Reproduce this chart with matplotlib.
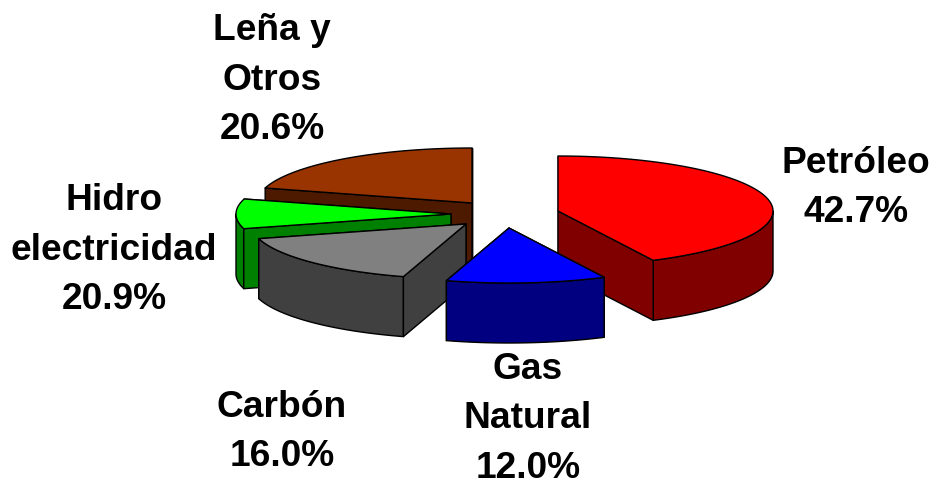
import numpy as np
import matplotlib
matplotlib.use('Agg')
import matplotlib.pyplot as plt
from matplotlib.patches import Polygon

plt.rcParams['font.family'] = ['Liberation Sans', 'DejaVu Sans']

# slice sizes (the hidro label says 20.9 but the slice is drawn as about 8.7)
names = ['Petróleo', 'Gas\nNatural', 'Carbón', 'Hidro\nelectricidad', 'Leña y\nOtros']
label_pct = [42.7, 12.0, 16.0, 20.9, 20.6]
slice_pct = [42.7, 12.0, 16.0, 8.7, 20.6]

# apex of each exploded slice, in pixels
apex_x = [558, 509, 466, 451, 472]
apex_y = [212, 229, 225, 215, 204]
top_colors = ['#ff0000', '#0000ff', '#808080', '#00ff00', '#993300']
side_colors = ['#800000', '#000080', '#404040', '#008000', '#4d1a00']
label_x = [856, 528, 282, 114, 272]
label_y = [188, 419, 432, 250, 80]

rx = 215
ry = 55
depth = 60
draw_order = [4, 3, 2, 0, 1]


def rim(cx, cy, a0, a1):
    # angles are clockwise from 12 o'clock, in degrees
    t = np.radians(np.linspace(a0, a1, 80))
    return np.column_stack([cx + rx * np.sin(t), cy - ry * np.cos(t)])


def add(ax, pts, color):
    ax.add_patch(Polygon(pts, closed=True, facecolor=color, edgecolor='black',
                         linewidth=1.0, joinstyle='round'))


def cut_face(cx, cy, a):
    p = rim(cx, cy, a, a)[0]
    return [(cx, cy), tuple(p), (p[0], p[1] + depth), (cx, cy + depth)]


fig = plt.figure(figsize=(9.34, 4.81), dpi=100)
ax = fig.add_axes([0, 0, 1, 1])
ax.set_xlim(0, 934)
ax.set_ylim(481, 0)
ax.axis('off')

edges = np.concatenate([[0], np.cumsum(slice_pct)]) * 3.6

for i in draw_order:
    cx, cy = apex_x[i], apex_y[i]
    a0, a1 = edges[i], edges[i + 1]
    side = side_colors[i]

    # a cut face looks at the viewer when its normal points down the page
    start_front = -np.cos(np.radians(a0 - 90)) > 0
    end_front = -np.cos(np.radians(a1 + 90)) > 0
    if not start_front:
        add(ax, cut_face(cx, cy, a0), side)
    if not end_front:
        add(ax, cut_face(cx, cy, a1), side)

    # outer wall, only the part on the near half
    r0, r1 = max(a0, 90), min(a1, 270)
    if r1 > r0:
        upper = rim(cx, cy, r0, r1)
        lower = upper[::-1] + [0, depth]
        add(ax, np.vstack([upper, lower]), side)

    if start_front:
        add(ax, cut_face(cx, cy, a0), side)
    if end_front:
        add(ax, cut_face(cx, cy, a1), side)

    add(ax, np.vstack([[cx, cy], rim(cx, cy, a0, a1)]), top_colors[i])

for i in range(len(names)):
    ax.text(label_x[i], label_y[i], f'{names[i]}\n{label_pct[i]:.1f}%',
            ha='center', va='center', ma='center', fontsize=26.7,
            fontweight='bold', color='black', linespacing=1.53)

fig.savefig('out.png', dpi=100)
